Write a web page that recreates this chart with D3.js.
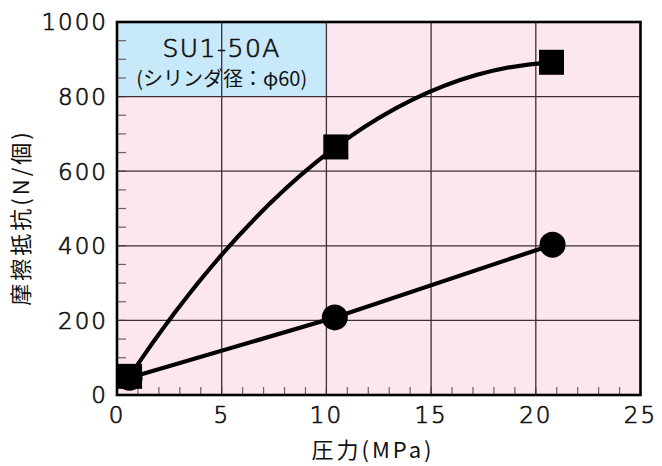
<!DOCTYPE html>
<html><head><meta charset="utf-8">
<script src="https://cdn.jsdelivr.net/npm/d3@7"></script>
<style>body{margin:0;background:#fff}svg{display:block}</style>
</head><body>
<svg id="c" width="662" height="466"></svg>
<script>
// ---- data ----
const squarePressure = [0.6, 10.45, 20.75];
const squareFriction = [50, 665, 892];
const circlePressure = [0.6, 10.4, 20.8];
const circleFriction = [46, 208, 403];
const xTicks = [0, 5, 10, 15, 20, 25];
const yTicks = [0, 200, 400, 600, 800, 1000];
const xTitle = "圧力(MPa)";
const yTitle = "摩擦抵抗(N/個)";
const boxLine1 = "SU1-50A";
const boxLine2 = "(シリンダ径：φ60)";

const svg = d3.select("#c");
const L = 117, R = 640.5, T = 22, B = 395;
const x = d3.scaleLinear().domain([0, 25]).range([L, R]);
const y = d3.scaleLinear().domain([0, 1000]).range([B, T]);
const font = "'Noto Sans CJK JP','Noto Sans',sans-serif";
const numFont = "'DejaVu Sans','Noto Sans',sans-serif";

// background
svg.append("rect").attr("x", L).attr("y", T).attr("width", R - L).attr("height", B - T).attr("fill", "#fce6ef");
svg.append("rect").attr("x", L).attr("y", T).attr("width", x(10) - L).attr("height", y(800) - T).attr("fill", "#c7e9f9");

// minor ticks
svg.append("g").selectAll("line").data(d3.range(1, 25)).join("line")
  .attr("x1", d => x(d)).attr("x2", d => x(d)).attr("y1", B).attr("y2", B - 8)
  .attr("stroke", "#6d5f66").attr("stroke-width", 1.2);
svg.append("g").selectAll("line").data(d3.range(50, 1000, 50)).join("line")
  .attr("x1", L).attr("x2", L + 9).attr("y1", d => y(d)).attr("y2", d => y(d))
  .attr("stroke", "#6d5f66").attr("stroke-width", 1.2);

// grid
svg.append("g").selectAll("line").data(xTicks.slice(1, -1)).join("line")
  .attr("x1", d => x(d)).attr("x2", d => x(d)).attr("y1", T).attr("y2", B)
  .attr("stroke", "#3a3035").attr("stroke-width", 1.3);
svg.append("g").selectAll("line").data(yTicks.slice(1, -1)).join("line")
  .attr("x1", L).attr("x2", R).attr("y1", d => y(d)).attr("y2", d => y(d))
  .attr("stroke", "#3a3035").attr("stroke-width", 1.3);

// frame
svg.append("rect").attr("x", L).attr("y", T).attr("width", R - L).attr("height", B - T)
  .attr("fill", "none").attr("stroke", "#000").attr("stroke-width", 2.6);

function numStyle(sel, size) {
  return sel.attr("font-family", numFont).attr("font-weight", 200).attr("font-size", size)
    .attr("fill", "#111").attr("stroke", "#111").attr("stroke-width", 0.7);
}

// box text
numStyle(svg.append("text"), 25).attr("x", (L + x(10)) / 2).attr("y", 57).attr("text-anchor", "middle")
  .attr("letter-spacing", 1.5).text(boxLine1);
svg.append("text").attr("x", (L + x(10)) / 2).attr("y", 86).attr("text-anchor", "middle")
  .attr("font-family", font).attr("font-size", 20).attr("fill", "#111").text(boxLine2);

// tick labels
numStyle(svg.append("g").selectAll("text").data(xTicks).join("text"), 23)
  .attr("x", d => x(d)).attr("y", 423).attr("text-anchor", "middle").attr("letter-spacing", 2).text(d => d);
numStyle(svg.append("g").selectAll("text").data(yTicks).join("text"), 23)
  .attr("x", 108).attr("y", d => y(d) + 8.3).attr("text-anchor", "end").attr("letter-spacing", 2).text(d => d);

// titles
svg.append("text").attr("x", 373).attr("y", 458).attr("text-anchor", "middle")
  .attr("font-family", font).attr("font-size", 22).attr("letter-spacing", 3).attr("fill", "#111").text(xTitle);
svg.append("text").attr("transform", `translate(29,217.5) rotate(-90)`).attr("text-anchor", "middle")
  .attr("font-family", font).attr("font-size", 22).attr("letter-spacing", 3).attr("fill", "#111").text(yTitle);

// quadratic curve through 3 points (parabola passing through middle point)
function curveParabola(context) {
  let pts = [];
  return {
    lineStart() { pts = []; },
    lineEnd() {
      if (pts.length === 3) {
        const [p0, p1, p2] = pts;
        const cx = 2 * p1[0] - (p0[0] + p2[0]) / 2, cy = 2 * p1[1] - (p0[1] + p2[1]) / 2;
        context.moveTo(p0[0], p0[1]);
        context.quadraticCurveTo(cx, cy, p2[0], p2[1]);
      } else {
        pts.forEach((p, i) => i ? context.lineTo(p[0], p[1]) : context.moveTo(p[0], p[1]));
      }
    },
    point(a, b) { pts.push([a, b]); },
    areaStart() {}, areaEnd() {}
  };
}

const circleData = circlePressure.map((p, i) => [p, circleFriction[i]]);
const squareData = squarePressure.map((p, i) => [p, squareFriction[i]]);

svg.append("path").datum(circleData)
  .attr("d", d3.line().x(d => x(d[0])).y(d => y(d[1])))
  .attr("fill", "none").attr("stroke", "#000").attr("stroke-width", 4.2);
svg.append("path").datum(squareData)
  .attr("d", d3.line().x(d => x(d[0])).y(d => y(d[1])).curve(curveParabola))
  .attr("fill", "none").attr("stroke", "#000").attr("stroke-width", 4.2);

svg.append("g").selectAll("circle").data(circleData).join("circle")
  .attr("cx", d => x(d[0])).attr("cy", d => y(d[1])).attr("r", 13).attr("fill", "#000");
const s = 25;
svg.append("g").selectAll("rect").data(squareData).join("rect")
  .attr("x", d => x(d[0]) - s / 2).attr("y", d => y(d[1]) - s / 2).attr("width", s).attr("height", s).attr("fill", "#000");
</script>
</body></html>
